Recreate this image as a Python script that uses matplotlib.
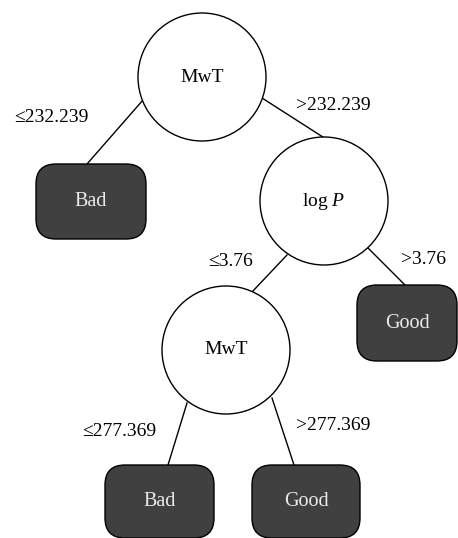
import matplotlib.pyplot as plt
from matplotlib.patches import Circle, FancyBboxPatch

# tree content
split_names = ["MwT", "log $\\mathit{P}$", "MwT"]
leaf_names = ["Bad", "Good", "Bad", "Good"]
edge_labels = ["\u2264232.239", ">232.239", "\u22643.76", ">3.76", "\u2264277.369", ">277.369"]

# layout in pixels (y down)
split_xy = [(202, 77), (324, 201), (226, 350)]
radius = 64
leaf_boxes = [(36, 164, 110, 75), (357, 285, 100, 76), (105, 465, 109, 73), (252, 465, 108, 73)]
edges = [((143, 100), (87, 164)), ((262, 98), (326, 139)),
         ((287, 255), (252, 292)), ((368, 248), (405, 285)),
         ((187, 403), (168, 465)), ((272, 398), (294, 465))]
label_xy = [(51, 118), (333, 105), (231, 261), (423, 260), (119, 432), (333, 425)]

plt.rcParams['font.family'] = ['Liberation Serif', 'DejaVu Serif']
plt.rcParams['mathtext.fontset'] = 'custom'
plt.rcParams['mathtext.it'] = 'Liberation Serif:italic'
plt.rcParams['mathtext.rm'] = 'Liberation Serif'

fig = plt.figure(figsize=(4.58, 5.38), dpi=100)
ax = fig.add_axes([0, 0, 1, 1])
ax.set_xlim(0, 458)
ax.set_ylim(538, 0)
ax.axis('off')

for (p0, p1) in edges:
    ax.plot([p0[0], p1[0]], [p0[1], p1[1]], color='black', lw=1.0, zorder=1)

for (x, y), name in zip(split_xy, split_names):
    ax.add_patch(Circle((x, y), radius, facecolor='white', edgecolor='black', lw=1.0, zorder=2))
    ax.text(x, y, name, ha='center', va='center', fontsize=14, zorder=3)

for (x, y, w, h), name in zip(leaf_boxes, leaf_names):
    ax.add_patch(FancyBboxPatch((x, y), w, h, boxstyle="round,pad=0,rounding_size=20",
                                facecolor='#404040', edgecolor='black', lw=1.0, zorder=2))
    ax.text(x + w / 2, y + h / 2, name, ha='center', va='center', fontsize=14.5,
            color='#ececec', zorder=3)

for (x, y), lab in zip(label_xy, edge_labels):
    ax.text(x, y, lab, ha='center', va='center', fontsize=14)

fig.savefig('out.png', dpi=100)
